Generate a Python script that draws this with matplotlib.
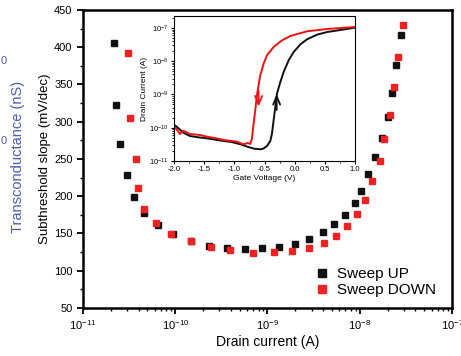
import numpy as np
import matplotlib.pyplot as plt
from matplotlib.ticker import LogLocator, NullFormatter, MultipleLocator

plt.rcParams['font.family'] = ['Liberation Sans', 'DejaVu Sans']

# main plot: subthreshold slope vs drain current
up_logi = [-10.661, -10.639, -10.602, -10.526, -10.444, -10.339, -10.184, -10.024,
           -9.829, -9.631, -9.442, -9.244, -9.056, -8.875, -8.705, -8.547, -8.401,
           -8.276, -8.163, -8.051, -7.990, -7.907, -7.831, -7.762, -7.694, -7.647,
           -7.607, -7.556]
up_ss = [406, 323, 270, 228, 199, 178, 161, 149, 139.5, 133.6, 130, 128.8, 130,
         132.3, 136.3, 142.6, 151.6, 162.4, 175, 190.6, 207.5, 230, 253, 278, 306,
         339, 376, 416]
down_logi = [-10.509, -10.494, -10.429, -10.404, -10.339, -10.205, -10.046, -9.829,
             -9.612, -9.407, -9.157, -8.933, -8.738, -8.553, -8.391, -8.257, -8.138,
             -8.027, -7.940, -7.864, -7.777, -7.734, -7.675, -7.632, -7.589, -7.534]
down_ss = [392, 305, 250, 211, 182.5, 163.7, 149.3, 140, 131.5, 127.5, 124.3, 124.8,
           126.6, 130.6, 137.3, 146.7, 159.7, 175.8, 195.4, 220.5, 247.3, 277.3, 309,
           347, 387, 430]

# inset: transfer curves (log10 of drain current vs gate voltage)
up_vg = [-2.0, -1.96, -1.85, -1.74, -1.6, -1.46, -1.32, -1.18, -1.05, -0.9, -0.79,
         -0.68, -0.57, -0.52, -0.46, -0.405, -0.377, -0.35, -0.322, -0.294, -0.238,
         -0.183, -0.1, -0.016, 0.095, 0.206, 0.373, 0.54, 0.76, 1.0]
up_logid = [-9.92, -9.97, -10.15, -10.25, -10.29, -10.32, -10.36, -10.40, -10.43,
            -10.50, -10.57, -10.63, -10.65, -10.63, -10.55, -10.40, -10.17, -9.77,
            -9.37, -8.97, -8.62, -8.32, -7.97, -7.72, -7.49, -7.34, -7.20, -7.12,
            -7.06, -6.99]
down_vg = [-2.0, -1.96, -1.905, -1.85, -1.74, -1.57, -1.46, -1.3, -1.18, -0.96, -0.85,
           -0.78, -0.738, -0.71, -0.683, -0.655, -0.627, -0.6, -0.572, -0.516, -0.46,
           -0.35, -0.21, -0.072, 0.206, 0.54, 1.0]
down_logid = [-9.97, -10.05, -10.19, -10.09, -10.19, -10.22, -10.27, -10.32, -10.37,
              -10.42, -10.50, -10.46, -10.49, -10.32, -9.87, -9.47, -9.02, -8.72,
              -8.42, -8.07, -7.82, -7.57, -7.37, -7.24, -7.10, -7.03, -6.97]

fig = plt.figure(figsize=(4.61, 3.56), dpi=100)
ax = fig.add_axes([0.180, 0.135, 0.8005, 0.837])

ax.plot(10.0 ** np.array(up_logi), up_ss, 's', color='#111111', ms=5, label='Sweep UP')
ax.plot(10.0 ** np.array(down_logi), down_ss, 's', color='#ee2222', ms=5, label='Sweep DOWN')
ax.set_xscale('log')
ax.set_xlim(1e-11, 1e-7)
ax.set_ylim(50, 450)
ax.yaxis.set_major_locator(MultipleLocator(50))
ax.yaxis.set_minor_locator(MultipleLocator(25))
ax.xaxis.set_major_locator(LogLocator(base=10, numticks=10))
ax.xaxis.set_minor_locator(LogLocator(base=10, subs=np.arange(2, 10), numticks=10))
ax.xaxis.set_minor_formatter(NullFormatter())
for s in ax.spines.values():
    s.set_linewidth(1.8)
ax.tick_params(which='major', direction='out', length=4, width=1.3, labelsize=8)
ax.tick_params(which='minor', direction='out', length=2.5, width=1.0)
ax.set_xlabel('Drain current (A)', fontsize=10, labelpad=2)
ax.set_ylabel('Subthreshold slope (mV/dec)', fontsize=9.5, labelpad=2)
ax.legend(loc='lower right', frameon=False, fontsize=11, handletextpad=0.4,
          borderaxespad=0.3, labelspacing=0.15, handlelength=1.2, markerscale=1.1,
          bbox_to_anchor=(0.985, 0.0))

# clipped twin-axis leftovers at the left edge
blue = '#4a5cb0'
fig.text(0.038, 0.56, 'Transconductance (nS)', rotation=90, color=blue,
         fontsize=10.5, ha='center', va='center')
fig.text(0.002, 0.83, '0', color=blue, fontsize=8, ha='left', va='center')
fig.text(0.002, 0.605, '0', color=blue, fontsize=8, ha='left', va='center')

# inset
ins = fig.add_axes([0.378, 0.548, 0.392, 0.407])
ins.plot(up_vg, 10.0 ** np.array(up_logid), color='#111111', lw=1.4)
ins.plot(down_vg, 10.0 ** np.array(down_logid), color='#ee1111', lw=1.4)
ins.set_yscale('log')
ins.set_xlim(-2.0, 1.0)
ins.set_ylim(1e-11, 10 ** -6.64)
ins.xaxis.set_major_locator(MultipleLocator(0.5))
ins.xaxis.set_minor_locator(MultipleLocator(0.25))
ins.yaxis.set_major_locator(LogLocator(base=10, numticks=10))
ins.yaxis.set_minor_locator(LogLocator(base=10, subs=np.arange(2, 10), numticks=10))
ins.yaxis.set_minor_formatter(NullFormatter())
ins.tick_params(which='major', direction='out', length=2.5, width=0.8, labelsize=5.5, pad=1.5)
ins.tick_params(which='minor', direction='out', length=1.5, width=0.6)
ins.xaxis.set_major_formatter(plt.FuncFormatter(lambda v, p: f'{v:.1f}'))
for s in ins.spines.values():
    s.set_linewidth(0.8)
ins.set_xlabel('Gate Voltage (V)', fontsize=6, labelpad=1)
ins.set_ylabel('Drain Current (A)', fontsize=6, labelpad=1)
# direction arrows (open heads)
ins.annotate('', xy=(-0.6, 10 ** -9.45), xytext=(-0.6, 10 ** -8.8),
             arrowprops=dict(arrowstyle='->,head_length=0.6,head_width=0.25',
                             color='#ee1111', lw=1.3))
ins.annotate('', xy=(-0.3, 10 ** -8.9), xytext=(-0.3, 10 ** -9.55),
             arrowprops=dict(arrowstyle='->,head_length=0.6,head_width=0.25',
                             color='#111111', lw=1.3))

fig.savefig('out.png', dpi=100)
